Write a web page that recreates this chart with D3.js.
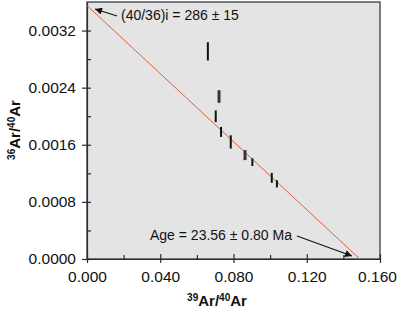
<!DOCTYPE html>
<html>
<head>
<meta charset="utf-8">
<script src="https://cdn.jsdelivr.net/npm/d3@7"></script>
<style>
  body { margin: 0; background: #fff; }
  text { font-family: "Liberation Sans", Arial, sans-serif; fill: #111; }
</style>
</head>
<body>
<svg id="chart" width="397" height="309"></svg>
<script>
// isochron steps: 39Ar/40Ar (x), 36Ar/40Ar (y), 1 sigma on y
const ratio39 = [0.0660, 0.0721, 0.0703, 0.0732, 0.0785, 0.0863, 0.0903, 0.1009, 0.1037]
const ratio36 = [0.002909, 0.002276, 0.002000, 0.001780, 0.001640, 0.001455, 0.001357, 0.001137, 0.001053]
const err36   = [0.000128, 0.000088, 0.000082, 0.000070, 0.000093, 0.000070, 0.000054, 0.000070, 0.000051]
const thick   = [false, true, false, false, false, true, false, false, false]

// regression line end points
const fitX = [0, 0.1490]
const fitY = [0.00355, 0]

const xTicks = [0, 0.04, 0.08, 0.12, 0.16]
const yTicks = [0, 0.0008, 0.0016, 0.0024, 0.0032]

const margin = {top: 2, right: 17, bottom: 50, left: 87}
const width = 397 - margin.left - margin.right
const height = 309 - margin.top - margin.bottom

const svg = d3.select('#chart')
const g = svg.append('g')
  .attr('transform', `translate(${margin.left}, ${margin.top})`)

const x = d3.scaleLinear().domain([0, 0.16]).range([0, width])
const y = d3.scaleLinear().domain([0, 0.0036]).range([height, 0])

g.append('rect')
  .attr('width', width)
  .attr('height', height)
  .attr('fill', '#e4e4e4')
  .attr('stroke', '#2a2a3a')
  .attr('stroke-width', 1.2)

// minor ticks (inside)
g.append('g')
  .attr('transform', `translate(0, ${height})`)
  .call(d3.axisTop(x).tickValues([0.02, 0.06, 0.10, 0.14]).tickSize(4).tickFormat(''))
  .call(a => a.select('.domain').remove())
g.append('g')
  .call(d3.axisRight(y).tickValues([0.0004, 0.0012, 0.002, 0.0028]).tickSize(4).tickFormat(''))
  .call(a => a.select('.domain').remove())

// major ticks cross the axis
const xAxis = g.append('g')
  .attr('transform', `translate(0, ${height})`)
  .call(d3.axisBottom(x).tickValues(xTicks).tickFormat(d3.format('.3f')).tickSizeInner(4).tickSizeOuter(0).tickPadding(8))
xAxis.selectAll('.tick line').attr('y1', -5)
// keep the last label inside the page
xAxis.selectAll('.tick text').filter(d => d === 0.16).attr('dx', -3)
const yAxis = g.append('g')
  .call(d3.axisLeft(y).tickValues(yTicks).tickFormat(d3.format('.4f')).tickSizeInner(5).tickSizeOuter(0).tickPadding(6))
yAxis.selectAll('.tick line').attr('x1', 4)

svg.selectAll('.tick text').style('font-size', '15.5px').attr('fill', '#111')
svg.selectAll('.tick line, .domain').attr('stroke', '#2a2a3a').attr('stroke-width', 1.2)

// isochron fit
g.append('line')
  .attr('x1', x(fitX[0])).attr('y1', y(fitY[0]))
  .attr('x2', x(fitX[1])).attr('y2', y(fitY[1]))
  .attr('stroke', '#e0603f')
  .attr('stroke-width', 1)

// error bars
g.append('g')
  .selectAll('line')
  .data(ratio39)
  .join('line')
    .attr('x1', d => x(d)).attr('x2', d => x(d))
    .attr('y1', (d, i) => y(ratio36[i] + err36[i]))
    .attr('y2', (d, i) => y(ratio36[i] - err36[i]))
    .attr('stroke', (d, i) => thick[i] ? '#3a3038' : '#111')
    .attr('stroke-width', (d, i) => thick[i] ? 3 : 2)

// annotations
const defs = svg.append('defs')
defs.append('marker')
  .attr('id', 'arr')
  .attr('viewBox', '0 0 10 10')
  .attr('refX', 10).attr('refY', 5)
  .attr('markerWidth', 9).attr('markerHeight', 7)
  .attr('markerUnits', 'userSpaceOnUse')
  .attr('orient', 'auto')
  .append('path').attr('d', 'M0,0 L10,5 L0,10 Z').attr('fill', '#111')

svg.append('line')
  .attr('x1', 117).attr('y1', 16).attr('x2', 95).attr('y2', 9)
  .attr('stroke', '#111').attr('stroke-width', 1.2)
  .attr('marker-end', 'url(#arr)')
svg.append('text')
  .attr('x', 121).attr('y', 20)
  .style('font-size', '14px')
  .text('(40/36)i = 286 ± 15')

svg.append('line')
  .attr('x1', 297).attr('y1', 236).attr('x2', 352).attr('y2', 256)
  .attr('stroke', '#111').attr('stroke-width', 1.2)
  .attr('marker-end', 'url(#arr)')
svg.append('text')
  .attr('x', 150).attr('y', 240)
  .style('font-size', '14px')
  .text('Age = 23.56 ± 0.80 Ma')

// axis titles
const xt = svg.append('text')
  .attr('x', 217).attr('y', 306)
  .attr('text-anchor', 'middle')
  .style('font-size', '15px').style('font-weight', 'bold')
xt.append('tspan').attr('font-size', '10px').attr('dy', -5).text('39')
xt.append('tspan').attr('dy', 5).text('Ar/')
xt.append('tspan').attr('font-size', '10px').attr('dy', -5).text('40')
xt.append('tspan').attr('dy', 5).text('Ar')

const yt = svg.append('text')
  .attr('transform', 'translate(20, 130) rotate(-90)')
  .attr('text-anchor', 'middle')
  .style('font-size', '15px').style('font-weight', 'bold')
yt.append('tspan').attr('font-size', '10px').attr('dy', -5).text('36')
yt.append('tspan').attr('dy', 5).text('Ar/')
yt.append('tspan').attr('font-size', '10px').attr('dy', -5).text('40')
yt.append('tspan').attr('dy', 5).text('Ar')
</script>
</body>
</html>
